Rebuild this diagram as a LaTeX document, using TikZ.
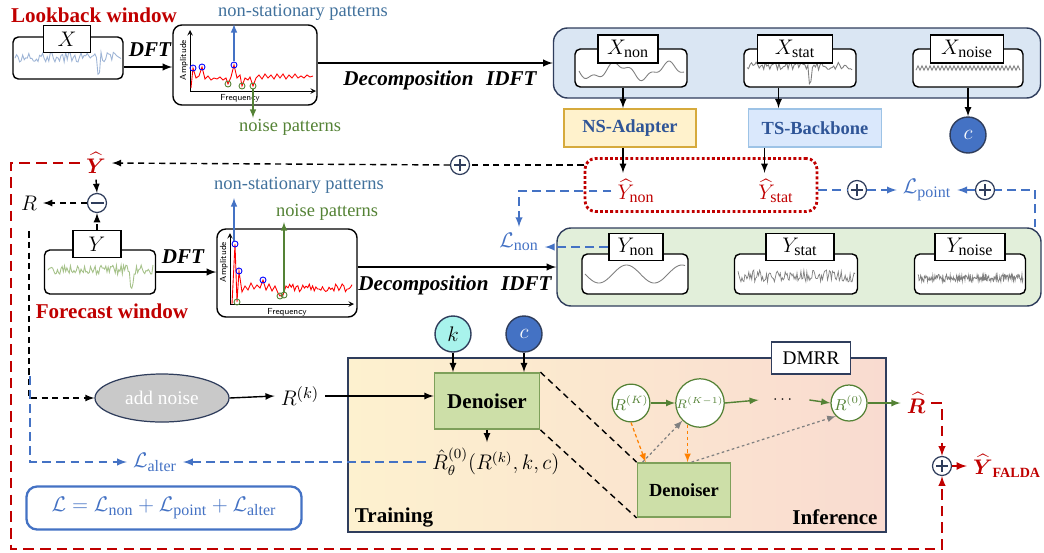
\documentclass[tikz,border=0pt]{standalone}
\usepackage{fontspec}
\setmainfont{Liberation Serif}
\usepackage{amsmath}
\usetikzlibrary{arrows,positioning,shapes.geometric}
\definecolor{fred}{HTML}{C00000}
\definecolor{fblue}{HTML}{4472C4}
\definecolor{tblue}{HTML}{2F5597}
\definecolor{pblue}{HTML}{41719C}
\definecolor{fgreen}{HTML}{548235}
\definecolor{navy}{HTML}{2F3D5C}
\definecolor{decbg}{HTML}{DAE6F3}
\definecolor{recbg}{HTML}{E2EFDA}
\definecolor{dnfill}{HTML}{CDDFA8}
\definecolor{dnline}{HTML}{7EA05A}
\definecolor{adfill}{HTML}{FFF2CC}
\definecolor{adline}{HTML}{D6AA3C}
\definecolor{bbfill}{HTML}{DAE8FC}
\definecolor{bbline}{HTML}{9DC3E6}
\definecolor{kfill}{HTML}{A8F3EC}
\definecolor{trfill}{HTML}{FDF1CF}
\definecolor{infill}{HTML}{F9DBD0}
\definecolor{curve}{HTML}{7F7F7F}
\definecolor{xcurve}{HTML}{9DB4D6}
\definecolor{ycurve}{HTML}{A6C28A}
\tikzset{
  sz/.style 2 args={minimum width=#1*0.02cm,minimum height=#2*0.02cm,inner sep=0pt},
  panel/.style={draw,fill=white,rounded corners=3pt,line width=0.8pt},
  lbl/.style={draw,fill=white,line width=0.9pt,font=\fontsize{13}{15}\selectfont},
  title/.style={text=fred,font=\bfseries\fontsize{12}{14}\selectfont},
  optxt/.style={font=\bfseries\itshape\fontsize{12}{14}\selectfont},
  pat/.style={font=\fontsize{10.5}{12}\selectfont},
  axlbl/.style={font=\sffamily\fontsize{5}{6}\selectfont},
  spec/.style={draw,fill=white,rounded corners=5pt,line width=0.8pt},
  group/.style={draw=navy,rounded corners=8pt,line width=0.8pt},
  module/.style={line width=1pt,font=\bfseries\fontsize{10.5}{12}\selectfont,text=tblue},
  sig/.style={circle,draw=navy,line width=0.7pt,fill=white,minimum size=0.38cm,inner sep=0pt},
  sumnode/.style={sig,path picture={\draw[line width=0.8pt]
    ([xshift=-0.12cm]path picture bounding box.center) -- ([xshift=0.12cm]path picture bounding box.center)
    ([yshift=-0.12cm]path picture bounding box.center) -- ([yshift=0.12cm]path picture bounding box.center);}},
  diffnode/.style={sig,path picture={\draw[line width=1pt]
    ([xshift=-0.13cm]path picture bounding box.center) -- ([xshift=0.13cm]path picture bounding box.center);}},
  mth/.style={font=\fontsize{13}{15}\selectfont},
  bdash/.style={dash pattern=on 3.5pt off 2.5pt,line width=0.8pt},
  ldash/.style={draw=fblue,dash pattern=on 5pt off 3pt,line width=0.9pt},
  rdash/.style={draw=fred,dash pattern=on 6pt off 3.5pt,line width=0.9pt},
  odash/.style={draw=orange,dash pattern=on 2pt off 1.5pt,line width=0.7pt},
  gdot/.style={draw=gray,dash pattern=on 1.5pt off 1.5pt,line width=0.7pt},
  garr/.style={->,draw=fgreen,line width=0.8pt},
  rnode/.style={circle,draw=fgreen,fill=white,line width=0.7pt,inner sep=0pt,text=fgreen,font=\fontsize{9}{10}\selectfont},
  denoiser/.style={draw=dnline,fill=dnfill,line width=1pt,font=\bfseries\fontsize{12}{14}\selectfont},
  cond/.style={circle,draw=navy,line width=0.8pt,minimum size=36*0.02cm,inner sep=0pt,font=\fontsize{13}{15}\selectfont},
}

\begin{document}
\begin{tikzpicture}[x=0.02cm,y=-0.02cm,>=latex]
\useasboundingbox (0,0) rectangle (1044,552);

\node[title] (lbw) at (94,15) {Lookback window};
\node[panel,sz={110}{42}] (xpan) at (68,58) {};
\pgfmathsetseed{7}
\draw[xcurve,line width=0.5pt] plot[domain=15:121,samples=70] (\x,{57+5*rand+(abs(\x-99)<1.5)*20});
\node[lbl,sz={47}{27}] (xlab) at (67,39) {$X$};
\node[optxt] (dft1) at (150,50) {DFT};

\node[spec,sz={144}{80}] (spec1) at (245,65) {};
\draw[->,>=stealth,line width=0.4pt] (190,91) -- (190,30);
\draw[->,>=stealth,line width=0.4pt] (190,91) -- (316,91);
\node[axlbl,rotate=90] (amp1) at (184,60) {Amplitude};
\node[axlbl] (frq1) at (240,98) {Frequency};
\draw[red,line width=0.5pt] plot coordinates {(191,88) (193,68) (196,78) (199,76) (202,67) (205,79) (208,76) (211,80) (214,78) (217,79) (220,77) (223,80) (226,78) (228,84) (231,77) (234,65) (237,78) (240,75) (242,86) (245,78) (248,80) (250,77) (253,86) (256,78) (259,75) (262,79) (265,74) (268,78) (271,75) (274,79) (277,74) (280,78) (283,74) (286,79) (289,75) (292,78) (295,74) (298,78) (301,76) (304,78) (307,75) (310,77) (313,76)};
\foreach \p in {(193,68),(202,67),(234,65)} \draw[blue,line width=0.5pt] \p circle[radius=3];
\foreach \p in {(228,84),(242,86),(253,86)} \draw[fgreen,line width=0.5pt] \p circle[radius=3];
\node[pat,text=pblue] (nsp1) at (303,12) {non-stationary patterns};
\node[pat,text=fgreen] (nzp1) at (290,127) {noise patterns};
\coordinate (pk1) at (234,61);
\coordinate (pk1t) at (234,24);
\coordinate (nz1) at (253,89);
\coordinate (nz1t) at (253,118);
\draw[->,fblue,line width=0.7pt] (pk1) -- (pk1t);
\draw[->,fgreen,line width=0.7pt] (nz1) -- (nz1t);
\draw[->,line width=0.9pt] ([yshift=-0.18cm]xpan.east) -- ([yshift=-0.18cm]xpan.east -| spec1.west);

\node[group,fill=decbg,sz={487}{70}] (dec) at (797,63) {};
\draw[->,line width=0.9pt] (spec1.east |- dec.west) -- (dec.west);
\node[optxt] (decomp1) at (440,80) {Decomposition\hspace{0.6em}IDFT};

\node[panel,sz={112}{38}] (xnonp) at (631,68) {};
\draw[curve,line width=0.5pt] plot[domain=579:684,samples=70,smooth] (\x,{71+7*sin((\x-579)*7)+3*sin((\x-579)*19)});
\node[lbl,sz={60}{28}] (xnonl) at (628,49) {$X_{\mathrm{non}}$};
\node[panel,sz={112}{38}] (xstatp) at (800,68) {};
\pgfmathsetseed{3}
\draw[curve,line width=0.5pt] plot[domain=747:852,samples=70] (\x,{66+4*rand+(abs(\x-810)<1)*16});
\node[lbl,sz={75}{28}] (xstatl) at (795,49) {$X_{\mathrm{stat}}$};
\node[panel,sz={110}{38}] (xnoisep) at (968,68) {};
\draw[curve,line width=0.5pt] plot[domain=916:1020,samples=53] (\x,{68+2.2*cos(180*round((\x-916)/2))});
\node[lbl,sz={73}{28}] (xnoisel) at (967,49) {$X_{\mathrm{noise}}$};

\node[module,draw=adline,fill=adfill,sz={132}{38}] (nsa) at (630,128) {NS-Adapter};
\node[module,draw=bbline,fill=bbfill,sz={133}{38}] (tsb) at (815,128) {TS-Backbone};
\node[cond,fill=fblue,text=white] (cx) at (968,135) {$c$};
\draw[->,line width=0.8pt] ([xshift=-0.16cm]xnonp.south) -- ([xshift=-0.16cm]xnonp.south |- nsa.north);
\draw[->,line width=0.8pt] ([xshift=-0.43cm]xstatp.south) -- ([xshift=-0.43cm]xstatp.south |- tsb.north);
\draw[->,line width=0.8pt] (xnoisep.south) -- (cx.north);

\node[draw=fred,line width=1.6pt,dash pattern=on 1.6pt off 1.3pt,rounded corners=6pt,sz={232}{53}] (predbox) at (701,185) {};
\node[mth,text=fred] (yhnon) at (636,191) {$\widehat{Y}_{\mathrm{non}}$};
\node[mth,text=fred] (yhstat) at (776,191) {$\widehat{Y}_{\mathrm{stat}}$};
\draw[->,line width=0.8pt] ([xshift=-0.14cm]nsa.south) -- ([xshift=-0.14cm]nsa.south |- yhnon.north);
\draw[->,line width=0.8pt] ([xshift=-1.01cm]tsb.south) -- ([xshift=-1.01cm]tsb.south |- yhstat.north);

\node[sumnode] (plus1) at (460,165) {};
\node[mth,text=fred] (yhat) at (96,163) {$\boldsymbol{\widehat{Y}}$};
\node[diffnode] (minus) at (97,203) {};
\node[mth] (rr) at (29,203) {$R$};
\draw[bdash] (predbox.west |- plus1) -- (plus1.east);
\draw[bdash,->] (plus1.west) -- (yhat.east);
\draw[bdash,->] (yhat.south) -- (minus.north);
\draw[bdash,->] (minus.west) -- (rr.east);

\node[panel,sz={111}{44}] (ypan) at (100,272) {};
\pgfmathsetseed{11}
\draw[ycurve,line width=0.5pt] plot[domain=48:153,samples=90] (\x,{270+5*rand+(abs(\x-132)<2)*16});
\node[lbl,sz={48}{27}] (ylab) at (97,244) {$Y$};
\draw[bdash,->] (ylab.north) -- (minus.south);
\node[title] (fcw) at (112,311) {Forecast window};
\node[optxt] (dft2) at (183,257) {DFT};

\node[spec,sz={140}{88}] (spec2) at (287,273) {};
\draw[->,>=stealth,line width=0.4pt] (230,304) -- (230,233);
\draw[->,>=stealth,line width=0.4pt] (230,304) -- (354,304);
\node[axlbl,rotate=90] (amp2) at (224,262) {Amplitude};
\node[axlbl] (frq2) at (287,312) {Frequency};
\pgfmathsetseed{5}
\draw[red,line width=0.5pt] (232,304) -- (235,244) -- (237,302) -- (239,271) -- (242,292) -- (245,286) -- (248,290) -- (251,283) -- (254,289) -- (257,285) -- (260,288) -- (263,280) -- (266,290) -- (269,284) -- (272,291) -- (275,286) -- (278,293) -- (280,296) -- (283,295) -- (286,286) -- plot[domain=288:352,samples=40] (\x,{288+4*rand});
\foreach \p in {(235,244),(239,271),(263,280)} \draw[blue,line width=0.5pt] \p circle[radius=3];
\foreach \p in {(237,302),(280,296),(284,295)} \draw[fgreen,line width=0.5pt] \p circle[radius=3];
\node[pat,text=pblue] (nsp2) at (299,185) {non-stationary patterns};
\node[pat,text=fgreen] (nzp2) at (327,212) {noise patterns};
\coordinate (pk2) at (234,241);
\coordinate (pk2t) at (234,198);
\coordinate (nz2) at (284,293);
\coordinate (nz2t) at (284,222);
\draw[->,fblue,line width=0.7pt] (pk2) -- (pk2t);
\draw[->,fgreen,line width=0.7pt] (nz2) -- (nz2t);
\draw[->,line width=0.9pt] (ypan.east) -- (ypan.east -| spec2.west);

\node[group,fill=recbg,sz={484}{78}] (rec) at (799,267) {};
\draw[->,line width=0.9pt] (spec2.east |- rec.west) -- (rec.west);
\node[optxt] (decomp2) at (455,285) {Decomposition\hspace{0.6em}IDFT};

\node[panel,sz={106}{40}] (ynonp) at (635,274) {};
\draw[curve,line width=0.5pt] plot[domain=585:685,samples=70,smooth] (\x,{274+9*sin((\x-585)*6.5)});
\node[lbl,sz={54}{27}] (ynonl) at (636,247) {$Y_{\mathrm{non}}$};
\node[panel,sz={123}{40}] (ystatp) at (796,274) {};
\pgfmathsetseed{21}
\draw[curve,line width=0.4pt] plot[domain=738:855,samples=120] (\x,{276+6*rand});
\node[lbl,sz={68}{27}] (ystatl) at (800,247) {$Y_{\mathrm{stat}}$};
\node[panel,sz={111}{40}] (ynoisep) at (970,274) {};
\pgfmathsetseed{31}
\draw[curve,line width=0.4pt] plot[domain=918:1023,samples=200] (\x,{278+4*rand});
\node[lbl,sz={70}{27}] (ynoisel) at (970,247) {$Y_{\mathrm{noise}}$};

\node[mth,text=fblue] (lnon) at (519,242) {$\mathcal{L}_{\mathrm{non}}$};
\node[sumnode] (plus2) at (857,190) {};
\node[mth,text=fblue] (lpoint) at (927,190) {$\mathcal{L}_{\mathrm{point}}$};
\node[sumnode] (plus3) at (985,190) {};
\draw[ldash,->] (yhnon.west) -| (lnon.north);
\draw[ldash,->] (ynonl.west) -- (ynonl.west -| lnon.east);
\draw[ldash] (predbox.east |- plus2) -- (plus2.west);
\draw[ldash,->] (plus2.east) -- (lpoint.west);
\draw[ldash] ([xshift=-0.14cm]rec.north east) |- (plus3.east);
\draw[ldash,->] (plus3.west) -- (lpoint.east);

\node[draw=navy,line width=1pt,left color=trfill,right color=infill,sz={538}{174}] (dmrr) at (617,445) {};
\node[draw=navy,fill=white,line width=0.8pt,sz={79}{32},font=\fontsize{11}{13}\selectfont] (dmrrl) at (811,358) {DMRR};
\node[font=\bfseries\fontsize{12}{14}\selectfont] (trn) at (394,517) {Training};
\node[font=\bfseries\fontsize{12}{14}\selectfont] (inf) at (835,517) {Inference};

\node[ellipse,draw=navy,fill=gray!42,line width=0.7pt,sz={134}{48},text=white,font=\fontsize{11}{13}\selectfont] (noise) at (162,398) {add noise};
\node[mth] (rk) at (300,396) {$R^{(k)}$};
\node[cond,fill=kfill] (kk) at (453,334) {$k$};
\node[cond,fill=fblue,text=white] (cc) at (524,334) {$c$};
\node[denoiser,sz={105}{56}] (den) at (487,401) {Denoiser};
\node[denoiser,sz={93}{54},font=\bfseries\fontsize{10.5}{12}\selectfont] (den2) at (684,490) {Denoiser};
\node[anchor=west,font=\fontsize{12}{14}\selectfont] (rhat0) at (426,462) {$\hat{R}_{\theta}^{(0)}(R^{(k)},k,c)$};
\node[mth,text=fblue] (lalter) at (155,462) {$\mathcal{L}_{\mathrm{alter}}$};
\node[draw=fblue,line width=1.3pt,rounded corners=6pt,fill=white,sz={275}{43},text=fblue,font=\fontsize{13}{15}\selectfont] (loss) at (164,508) {$\mathcal{L}=\mathcal{L}_{\mathrm{non}}+\mathcal{L}_{\mathrm{point}}+\mathcal{L}_{\mathrm{alter}}$};

\draw[bdash,->] ([yshift=-0.3cm]rr.south) |- (noise.west);
\coordinate (lb) at (30,376);
\draw[ldash,->] (lb) |- (lalter.west);
\draw[->,line width=0.8pt] (noise.east) -- (rk.west);
\draw[->,line width=0.8pt] (rk.east) -- (rk.east -| den.west);
\draw[->,line width=0.8pt] (kk.south) -- (kk.south |- den.north);
\draw[->,line width=0.8pt] (cc.south) -- (cc.south |- den.north);
\draw[->,line width=0.8pt] (den.south) -- (den.south |- rhat0.north);
\draw[ldash,->] (rhat0.west) -- (rhat0.west -| lalter.east);
\draw[bdash] (den.north east) -- (den2.north west);
\draw[bdash] (den.south east) -- (den2.south west);

\node[rnode,minimum size=35*0.02cm] (rK) at (631,403) {$R^{(K)}$};
\node[rnode,minimum size=40*0.02cm,font=\fontsize{7.5}{9}\selectfont] (rK1) at (700,403) {$R^{(K-1)}$};
\node[sz={50}{10},font=\fontsize{9}{10}\selectfont] (dots) at (784,400) {$\cdots$};
\node[rnode,minimum size=36*0.02cm] (r0) at (849,403) {$R^{(0)}$};
\node[mth,text=fred] (rhat) at (916,403) {$\boldsymbol{\widehat{R}}$};
\node[sumnode] (plus4) at (942,466) {};
\node[mth,text=fred] (yfalda) at (1007,466) {$\boldsymbol{\widehat{Y}}_{\text{\bfseries\fontsize{8}{9}\selectfont FALDA}}$};
\draw[garr] (rK.east) -- (rK1.west);
\draw[garr] (rK1.east) -- (dots.west);
\draw[garr] (dots.east) -- (r0.west);
\draw[garr] (r0.east) -- (rhat.west);
\draw[odash,->] (rK.south) -- ([xshift=0.18cm]den2.north west);
\draw[gdot,->] ([xshift=0.12cm]den2.north west) -- (rK1.south west);
\coordinate (o2) at (rK1.240 |- den2.north);
\draw[odash,->] (rK1.240) -- (o2);
\draw[gdot,->] ([xshift=0.08cm]o2) -- (r0.south west);
\draw[rdash,->] (rhat.east) -| (plus4.north);
\draw[->,fred,line width=1pt] (plus4.east) -- (yfalda.west);
\coordinate (lc) at (11,549);
\draw[rdash,->] (yhat.west) -| (lc) -| (plus4.south);
\end{tikzpicture}
\end{document}
